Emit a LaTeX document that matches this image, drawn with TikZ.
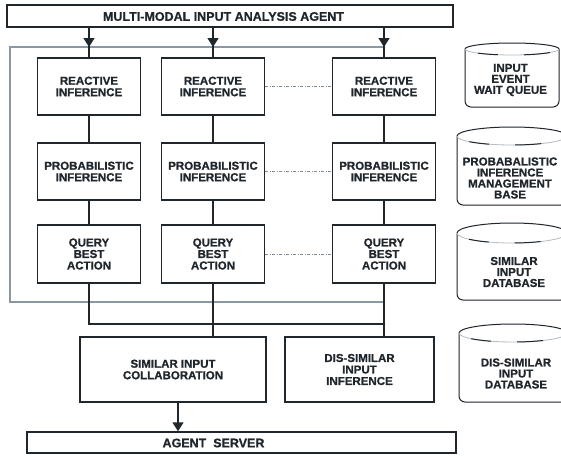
\documentclass[tikz,border=0pt]{standalone}
\usepackage{fontspec}
\setmainfont{Liberation Sans}[BoldFeatures={FakeBold=0.8}]
\usetikzlibrary{arrows.meta}
\pgfdeclarelayer{back}
\pgfsetlayers{back,main}

\definecolor{ink}{HTML}{1F262C}
\definecolor{framegray}{HTML}{8A98A4}
\definecolor{linkgray}{HTML}{7E8A94}
\definecolor{rimgray}{HTML}{B4BCC3}

\tikzset{
  box/.style={draw=ink, fill=white, line width=1.5pt, inner sep=0pt, text=ink, align=center,
              font=\bfseries\fontsize{11.5}{11.5}\selectfont},
  bar/.style={draw=ink, line width=1.5pt, inner sep=0pt},
  bartext/.style={text=ink, inner sep=0pt, font=\bfseries\fontsize{12.5}{13}\selectfont},
  wire/.style={draw=ink, line width=1.5pt},
  arr/.style={draw=ink, line width=1.5pt, -{Triangle[length=9pt,width=11pt]}},
  link/.style={draw=linkgray, line width=0.9pt, dash pattern=on 3pt off 1.5pt on 1pt off 1.5pt},
  frame/.style={draw=framegray, line width=1.2pt},
  drum/.style={draw=ink, line width=1pt},
  drumrim/.style={draw=rimgray, line width=0.8pt},
  drumdash/.style={draw=ink, line width=1pt, dash pattern=on 0pt off 14pt on 20pt off 26pt on 26pt off 300pt},
  drumtext/.style={text=ink, inner sep=0pt, align=center,
                   font=\bfseries\fontsize{11.5}{11}\selectfont},
  joint/.style={circle, fill=ink, inner sep=0pt, minimum size=2.6pt},
}

% database drum: left x, right x, rim centre y, rim half-height, bottom y
\newcommand\dbdrum[5]{%
  \pgfmathsetmacro\drumrad{(#2-#1)/2}%
  \draw[drum, rounded corners=6pt] (#1,#3) -- (#1,#5) -- (#2,#5) -- (#2,#3);
  \draw[drum] (#1,#3) arc[start angle=180, end angle=360, x radius=\drumrad, y radius=#4];
  \draw[drumrim] (#1,#3) arc[start angle=180, end angle=0, x radius=\drumrad, y radius=#4];
  \draw[drumdash] (#1,#3) arc[start angle=180, end angle=0, x radius=\drumrad, y radius=#4];
}

\begin{document}
\begin{tikzpicture}[x=1pt, y=-1pt]
  \useasboundingbox (0,0) rectangle (561,455);

  % page ground and the enclosing frame of the inference columns
  \coordinate (fnw) at (10,47);
  \coordinate (fse) at (384,302);
  \begin{pgfonlayer}{back}
    \fill[white] (0,0) rectangle (561,455);
    \draw[frame] (fnw) rectangle (fse);
  \end{pgfonlayer}

  % top and bottom bars
  \node[bar, minimum width=446pt, minimum height=22pt] (agent) at (230,16) {};
  \node[bartext] (agenttxt) at (223.5,16.5) {MULTI-MODAL INPUT ANALYSIS AGENT};
  \node[bar, minimum width=429pt, minimum height=21pt] (server) at (241.5,442.5) {};
  \node[bartext] (servertxt) at (213.5,443) {AGENT~~SERVER};

  % inference columns
  \foreach \c/\x in {1/89, 2/213, 3/384}{
    \node[box, minimum width=103pt, minimum height=57pt] (r\c) at (\x,86.5)
      {REACTIVE\\INFERENCE};
    \node[box, minimum width=103pt, minimum height=57pt] (p\c) at (\x,171.5)
      {PROBABILISTIC\\INFERENCE};
    \node[box, minimum width=103pt, minimum height=58pt] (q\c) at (\x,254)
      {QUERY\\BEST\\ACTION};
  }

  % lower processing boxes
  \node[box, minimum width=186pt, minimum height=65pt] (sim) at (173,369.5)
    {SIMILAR INPUT\\COLLABORATION};
  \node[box, minimum width=149pt, minimum height=65pt] (dis) at (359.5,369.5)
    {DIS-SIMILAR\\INPUT\\INFERENCE};

  % column connectors, kept behind the boxes
  \begin{pgfonlayer}{back}
    \foreach \c in {1,2,3}{
      \draw[wire] (agent.south -| r\c) -- (r\c.north);
      \draw[wire] (r\c.south) -- (p\c.north);
      \draw[wire] (p\c.south) -- (q\c.north);
    }
  \end{pgfonlayer}

  % input arrows from the analysis agent
  \foreach \c in {1,2,3}{
    \draw[arr] (agent.south -| r\c) -- (r\c |- fnw);
  }

  % dash-dot links between the second and third columns
  \draw[link] (r2.east) -- (r3.west);
  \draw[link] (p2.east) -- (p3.west);
  \draw[link] (q2.east) -- (q3.west);

  % collecting bus
  \coordinate (bus) at (0,324);
  \draw[wire] (q1.south) -- (q1 |- bus) -- (q3 |- bus);
  \draw[wire] (q2.south) -- (sim.north -| q2);
  \draw[wire] (q3.south) -- (dis.north -| q3);
  \node[joint] (j2) at (q2 |- bus) {};
  \node[joint] (j3) at (q3 |- bus) {};
  \node[joint, minimum size=2pt] (k1) at (q1 |- fse) {};
  \node[joint, minimum size=2pt] (k2) at (q2 |- fse) {};
  \node[joint, minimum size=2pt] (k3) at (q3 |- fse) {};

  % output to the server
  \coordinate (down) at (178,0);
  \draw[arr] (sim.south -| down) -- (server.north -| down);

  % databases
  \dbdrum{465}{559}{49}{6}{107}
  \node[drumtext] (db1) at (510.5,80) {INPUT\\EVENT\\WAIT QUEUE};
  \dbdrum{457}{567}{136}{9}{205}
  \node[drumtext] (db2) at (510,178) {PROBABALISTIC\\INFERENCE\\MANAGEMENT\\BASE};
  \dbdrum{457}{567}{233}{10}{300}
  \node[drumtext] (db3) at (514,272) {SIMILAR\\INPUT\\DATABASE};
  \dbdrum{459}{567}{333}{9}{402}
  \node[drumtext] (db4) at (516,373.5) {DIS-SIMILAR\\INPUT\\DATABASE};
\end{tikzpicture}
\end{document}
